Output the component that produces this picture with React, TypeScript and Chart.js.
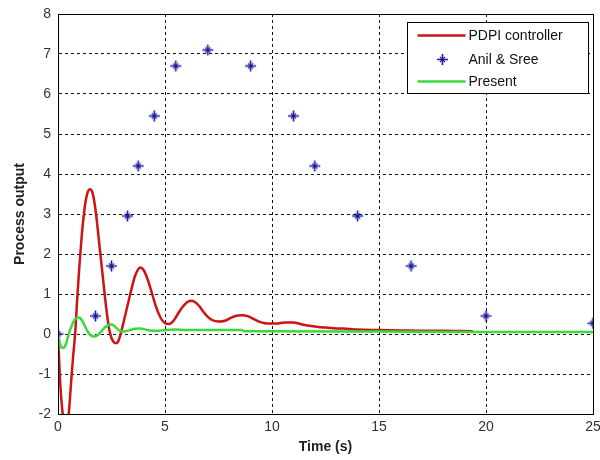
import React, { useEffect, useRef } from 'react';
import { Chart, registerables } from 'chart.js';

Chart.register(...registerables);

// ---- Data ----
const pdpiTime = [0, 0.1, 0.2, 0.3, 0.4, 0.5, 0.6, 0.7, 0.8, 0.9, 1.0, 1.1, 1.2, 1.3, 1.4, 1.5, 1.6, 1.7, 1.8, 1.9, 2.0, 2.1, 2.2, 2.3, 2.4, 2.5, 2.6, 2.7, 2.8, 2.9, 3.0, 3.2, 3.4, 3.6, 3.85, 4.0, 4.2, 4.4, 4.6, 4.8, 5.0, 5.2, 5.4, 5.6, 5.8, 6.0, 6.2, 6.4, 6.6, 6.8, 7.0, 7.2, 7.5, 7.8, 8.1, 8.4, 8.6, 8.9, 9.2, 9.5, 9.8, 10.2, 10.6, 11.0, 11.4, 12.0, 12.5, 13.0, 13.5, 14.0, 15.0, 16.0, 17.0, 18.0, 19.4];
const pdpiValue = [0, -1.2, -1.9, -2.25, -2.3, -2.0, -1.3, -0.6, 0.0, 0.9, 1.7, 2.4, 2.95, 3.35, 3.57, 3.62, 3.55, 3.3, 2.9, 2.4, 1.9, 1.4, 0.9, 0.45, 0.1, -0.1, -0.2, -0.23, -0.2, -0.05, 0.15, 0.6, 1.05, 1.45, 1.66, 1.6, 1.35, 1.0, 0.65, 0.4, 0.27, 0.25, 0.33, 0.5, 0.66, 0.78, 0.83, 0.8, 0.7, 0.55, 0.43, 0.35, 0.31, 0.33, 0.41, 0.46, 0.47, 0.44, 0.36, 0.29, 0.26, 0.26, 0.29, 0.29, 0.24, 0.19, 0.16, 0.14, 0.13, 0.11, 0.1, 0.09, 0.08, 0.08, 0.07];

const anilTime = [0, 1.75, 2.5, 3.25, 3.75, 4.5, 5.5, 7, 9, 11, 12, 14, 16.5, 20, 25];
const anilValue = [0, 0.45, 1.7, 2.95, 4.2, 5.45, 6.7, 7.1, 6.7, 5.45, 4.2, 2.95, 1.7, 0.45, 0.27];

const presentTime = [0, 0.1, 0.2, 0.3, 0.4, 0.5, 0.6, 0.7, 0.8, 0.95, 1.1, 1.2, 1.3, 1.4, 1.55, 1.7, 1.85, 2.0, 2.2, 2.45, 2.6, 2.75, 2.9, 3.05, 3.3, 3.6, 3.85, 4.1, 4.4, 4.7, 5.0, 5.5, 6, 7, 8.6, 8.7, 10, 15, 20, 25];
const presentValue = [0, -0.25, -0.35, -0.33, -0.2, 0.0, 0.15, 0.28, 0.37, 0.41, 0.36, 0.26, 0.15, 0.05, -0.04, -0.06, -0.03, 0.05, 0.17, 0.24, 0.22, 0.14, 0.08, 0.06, 0.09, 0.13, 0.14, 0.11, 0.08, 0.08, 0.1, 0.11, 0.1, 0.1, 0.1, 0.07, 0.07, 0.06, 0.05, 0.05];

const seriesNames = ['PDPI controller', 'Anil & Sree', 'Present'];
const xTicks = [0, 5, 10, 15, 20, 25];
const yTicks = [-2, -1, 0, 1, 2, 3, 4, 5, 6, 7, 8];
const xTitle = 'Time (s)';
const yTitle = 'Process output';

const RED = '#cc1414';
const BLUE = '#1a1a9a';
const GREEN = '#3ada3a';
const FONT = "'Liberation Sans', Arial, sans-serif";

const toPoints = (xs: number[], ys: number[]) => xs.map((x, i) => ({ x, y: ys[i] }));

function drawStar(ctx: CanvasRenderingContext2D, x: number, y: number) {
  ctx.beginPath();
  ctx.lineWidth = 1.6;
  ctx.moveTo(x - 5.5, y); ctx.lineTo(x + 5.5, y);
  ctx.moveTo(x, y - 5.5); ctx.lineTo(x, y + 5.5);
  ctx.stroke();
  ctx.beginPath();
  ctx.lineWidth = 1.2;
  const d = 2.6;
  ctx.moveTo(x - d, y - d); ctx.lineTo(x + d, y + d);
  ctx.moveTo(x - d, y + d); ctx.lineTo(x + d, y - d);
  ctx.stroke();
  ctx.beginPath();
  ctx.arc(x, y, 1.6, 0, Math.PI * 2);
  ctx.fill();
}

function makeStarCanvas(color: string) {
  const c = document.createElement('canvas');
  c.width = 13; c.height = 13;
  const ctx = c.getContext('2d')!;
  ctx.strokeStyle = color;
  ctx.fillStyle = color;
  drawStar(ctx, 6.5, 6.5);
  return c;
}

const boxPlugin = {
  id: 'boxAndLegend',
  afterDraw(chart: any) {
    const { ctx, chartArea } = chart;
    ctx.save();
    ctx.strokeStyle = '#000';
    ctx.lineWidth = 1;
    ctx.setLineDash([]);
    ctx.strokeRect(chartArea.left + 0.5, chartArea.top + 0.5, chartArea.right - chartArea.left, chartArea.bottom - chartArea.top);

    // legend
    const w = 181, h = 71;
    const lx = Math.round(chartArea.right - 5 - w) + 0.5;
    const ly = Math.round(chartArea.top + 8) + 0.5;
    ctx.fillStyle = '#fff';
    ctx.fillRect(lx, ly, w, h);
    ctx.strokeRect(lx, ly, w, h);
    ctx.font = `14px ${FONT}`;
    ctx.textBaseline = 'middle';
    ctx.textAlign = 'left';
    const rows = [13, 37, 59];
    chart.data.datasets.forEach((ds: any, i: number) => {
      const cy = ly + rows[i];
      if (ds.showLine === false) {
        ctx.strokeStyle = ds.borderColor;
        ctx.fillStyle = ds.borderColor;
        drawStar(ctx, lx + 35, cy);
      } else {
        ctx.strokeStyle = ds.borderColor;
        ctx.lineWidth = 2.5;
        ctx.beginPath();
        ctx.moveTo(lx + 10, cy);
        ctx.lineTo(lx + 58, cy);
        ctx.stroke();
      }
      ctx.fillStyle = '#111';
      ctx.fillText(ds.label, lx + 61, cy + 1);
    });
    ctx.restore();
  },
};

export default function App() {
  const canvasRef = useRef<HTMLCanvasElement | null>(null);

  useEffect(() => {
    if (!canvasRef.current) return;
    const star = makeStarCanvas(BLUE);
    const chart = new Chart(canvasRef.current, {
      type: 'line',
      data: {
        datasets: [
          {
            label: seriesNames[0],
            data: toPoints(pdpiTime, pdpiValue),
            borderColor: RED,
            backgroundColor: RED,
            borderWidth: 2.5,
            pointRadius: 0,
            cubicInterpolationMode: 'monotone',
            order: 3,
          },
          {
            label: seriesNames[1],
            data: toPoints(anilTime, anilValue),
            borderColor: BLUE,
            backgroundColor: BLUE,
            showLine: false,
            pointStyle: star,
            pointRadius: 6,
            order: 2,
          },
          {
            label: seriesNames[2],
            data: toPoints(presentTime, presentValue),
            borderColor: GREEN,
            backgroundColor: GREEN,
            borderWidth: 2.5,
            pointRadius: 0,
            cubicInterpolationMode: 'monotone',
            order: 1,
          },
        ],
      } as any,
      options: {
        animation: false,
        responsive: false,
        maintainAspectRatio: false,
        layout: { padding: { top: 14, right: 5, bottom: 0, left: 0 } },
        plugins: { legend: { display: false }, tooltip: { enabled: false } },
        scales: {
          x: {
            type: 'linear',
            min: 0,
            max: 25,
            afterBuildTicks: (s: any) => { s.ticks = xTicks.map((v) => ({ value: v })); },
            afterFit: (s: any) => { s.height = 46; s.paddingLeft = 0; s.paddingRight = 0; },
            ticks: { color: '#333', font: { family: FONT, size: 14 }, padding: 5, maxRotation: 0 },
            grid: { color: '#111', lineWidth: 1, drawTicks: false },
            border: { display: true, color: '#000', dash: [3, 3], width: 1 },
            title: { display: true, text: xTitle, color: '#222', font: { family: FONT, size: 14, weight: 'bold' }, padding: { top: 0, bottom: 4 } },
          },
          y: {
            type: 'linear',
            min: -2,
            max: 8,
            afterBuildTicks: (s: any) => { s.ticks = yTicks.map((v) => ({ value: v })); },
            afterFit: (s: any) => { s.width = 58; s.paddingTop = 0; s.paddingBottom = 0; },
            ticks: { color: '#333', font: { family: FONT, size: 14 }, padding: 7 },
            grid: { color: '#111', lineWidth: 1, drawTicks: false },
            border: { display: true, color: '#000', dash: [3, 3], width: 1 },
            title: { display: true, text: yTitle, color: '#222', font: { family: FONT, size: 14, weight: 'bold' }, padding: { top: 12, bottom: 0 } },
          },
        },
      } as any,
      plugins: [boxPlugin],
    });
    return () => chart.destroy();
  }, []);

  return (
    <div style={{ position: 'fixed', left: 0, top: 0, width: 600, height: 460, background: '#fff' }}>
      <canvas ref={canvasRef} width={600} height={460} style={{ width: 600, height: 460 }} />
    </div>
  );
}
